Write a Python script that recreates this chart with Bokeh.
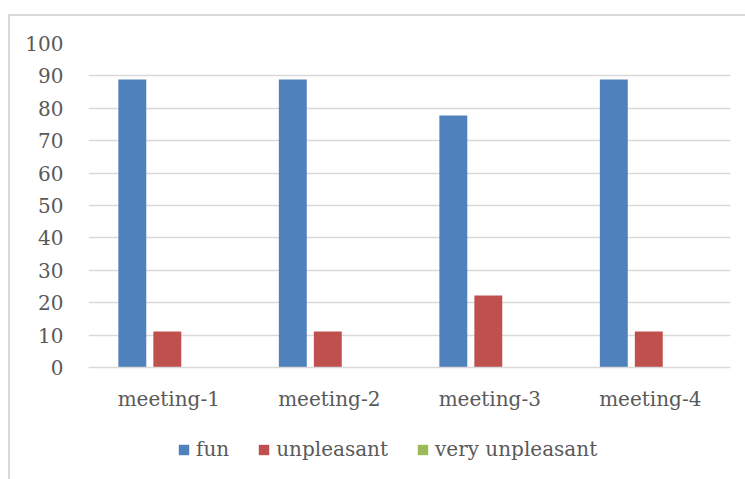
from bokeh.plotting import figure
from bokeh.layouts import column
from bokeh.models import (ColumnDataSource, FactorRange, Range1d, Legend, LegendItem,
                          SingleIntervalTicker)
from bokeh.transform import dodge
from bokeh.embed import file_html
from bokeh.resources import INLINE

# Data: share of answers per meeting (%)
meetings = ["meeting-1", "meeting-2", "meeting-3", "meeting-4"]
fun = [88.9, 88.9, 77.8, 88.9]
unpleasant = [11.1, 11.1, 22.2, 11.1]
very_unpleasant = [0, 0, 0, 0]

series_names = ["fun", "unpleasant", "very unpleasant"]
series_colors = ["#4f81bd", "#c0504d", "#9bbb59"]
series_cols = ["fun", "unpleasant", "very_unpleasant"]

FONT = "DejaVu Serif"
TEXT_COLOR = "#595959"
GRID_COLOR = "#d9d9d9"
FONT_SIZE = "20px"

source = ColumnDataSource(dict(meeting=meetings, fun=fun, unpleasant=unpleasant,
                               very_unpleasant=very_unpleasant))

# Main bar chart
p = figure(width=735, height=404, x_range=FactorRange(*meetings, range_padding=0),
           y_range=Range1d(0, 100), output_backend="svg", toolbar_location=None,
           min_border_left=78, min_border_right=15, min_border_top=27, min_border_bottom=53)

bar_w = 0.174
step = 0.218
shift = -0.009
for i, (col, color) in enumerate(zip(series_cols, series_colors)):
    p.vbar(x=dodge("meeting", (i - 1) * step + shift, range=p.x_range), top=col, width=bar_w,
           bottom=0, source=source, fill_color=color, line_color=None)

p.yaxis.ticker = SingleIntervalTicker(interval=10)
p.yaxis.axis_line_color = None
p.yaxis.major_tick_line_color = None
p.yaxis.major_tick_out = 0
p.yaxis.minor_tick_line_color = None
p.yaxis.major_label_standoff = 21
p.yaxis.major_label_text_font = FONT
p.yaxis.major_label_text_font_size = FONT_SIZE
p.yaxis.major_label_text_color = TEXT_COLOR

p.xaxis.axis_line_color = GRID_COLOR
p.xaxis.axis_line_width = 1.5
p.xaxis.major_tick_line_color = None
p.xaxis.major_tick_out = 0
p.xaxis.minor_tick_line_color = None
p.xaxis.major_label_standoff = 19
p.xaxis.major_label_text_font = FONT
p.xaxis.major_label_text_font_size = FONT_SIZE
p.xaxis.major_label_text_color = TEXT_COLOR

p.xgrid.grid_line_color = None
p.ygrid.grid_line_color = GRID_COLOR
p.ygrid.grid_line_width = 1.5
p.outline_line_color = None

# Legend strip under the chart (its frame lines up with the chart frame)
lg = figure(width=735, height=59, x_range=Range1d(0, 1), y_range=Range1d(0, 1),
            output_backend="svg", toolbar_location=None,
            min_border_left=0, min_border_right=0, min_border_top=0, min_border_bottom=0)
lg.axis.visible = False
lg.grid.grid_line_color = None
lg.outline_line_color = None
# one off-range placeholder bar per series so the legend swatches are drawn
placeholder = ColumnDataSource(dict(x=[5.0], top=[0.0]))
items = []
for name, color in zip(series_names, series_colors):
    r = lg.vbar(x="x", top="top", width=0.1, source=placeholder, fill_color=color, line_color=None)
    items.append(LegendItem(label=name, renderers=[r]))

legend = Legend(items=items, orientation="horizontal", location=(89, 18),
                label_text_font=FONT, label_text_font_size=FONT_SIZE, label_text_color=TEXT_COLOR,
                glyph_width=13, glyph_height=13, label_standoff=6, spacing=28,
                border_line_color=None, background_fill_alpha=0, margin=0, padding=0)
lg.add_layout(legend, "center")

layout = column(p, lg, spacing=0, margin=(14, 0, 0, 8),
                styles={"border-top": "2px solid #d9d9d9", "border-left": "2px solid #d9d9d9"})

open("out.html", "w").write(file_html(layout, INLINE))
